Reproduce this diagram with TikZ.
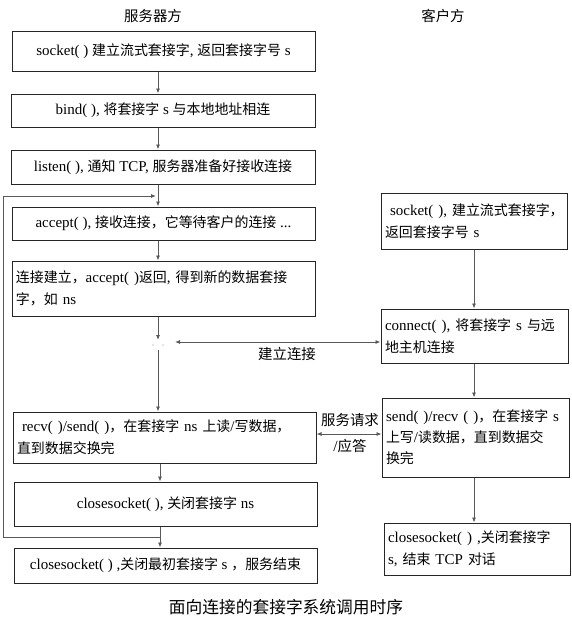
\documentclass[tikz,border=0pt]{standalone}
\usepackage{fontspec}
\setmainfont{Liberation Serif}
\newfontfamily\cjk[Scale=0.93]{Noto Sans CJK SC}
\usetikzlibrary{arrows.meta}
\newcommand\zh[1]{{\cjk #1}}
\begin{document}
\begin{tikzpicture}[x=1pt,y=-1pt,
 box/.style={draw=black!85,line width=1pt,inner xsep=4pt,inner ysep=2pt,font=\fontsize{15}{22}\selectfont,anchor=center},
 lbox/.style={box,align=left},
 arr/.style={draw=black!65,line width=0.8pt,-{Latex[length=5pt,width=4pt]}},
 dbl/.style={draw=black!65,line width=0.8pt,{Latex[length=5pt,width=4pt]}-{Latex[length=5pt,width=4pt]}},
 lab/.style={font=\fontsize{15.5}{16}\selectfont,inner sep=1pt},
 title/.style={font=\fontsize{15.5}{16}\selectfont\cjk,inner sep=1pt}]
\useasboundingbox (0,0) rectangle (571,618);
% titles
\node[title] (ts) at (153,16) {服务器方};
\node[title] (tc) at (443,16) {客户方};
% server boxes
\node[box,minimum width=303pt,minimum height=39pt] (b1) at (163.5,51.5) {socket( ) \zh{建立流式套接字}, \zh{返回套接字号} s};
\node[box,minimum width=304pt,minimum height=33pt] (b2) at (163,110.5) {bind( ), \zh{将套接字} s \zh{与本地地址相连}};
\node[box,minimum width=304pt,minimum height=34pt] (b3) at (163,167) {listen( ), \zh{通知} TCP, \zh{服务器准备好接收连接}};
\node[box,minimum width=303pt,minimum height=33pt] (b4) at (163.5,223.5) {accept( ), \zh{接收连接，它等待客户的连接} ...};
\node[lbox,text width=295pt,minimum height=55pt] (b5) at (163.5,288.5) {\zh{连接建立，}accept( )\zh{返回}, \zh{得到新的数据套接}\\\zh{字，如} ns};
\node[lbox,text width=295pt,minimum height=51pt] (b6) at (164.5,437.5) {\ recv( )/send( )\zh{，在套接字} ns \zh{上读}/\zh{写数据，}\\\zh{直到数据交换完}};
\node[box,minimum width=303pt,minimum height=44pt] (b7) at (165.5,504) {closesocket( ), \zh{关闭套接字} ns};
\node[box,minimum width=303pt,minimum height=35pt] (b8) at (165.5,565.5) {closesocket( ) ,\zh{关闭最初套接字} s \zh{，服务结束}};
% client boxes
\node[lbox,text width=178pt,minimum height=56pt] (c1) at (474,221) {\mbox{\ socket( ), \zh{建立流式套接字，}}\\\zh{返回套接字号} s};
\node[lbox,text width=179pt,minimum height=54pt] (c2) at (474.5,336) {connect( ), \zh{将套接字} s \zh{与远}\\\zh{地主机连接}};
\node[lbox,text width=179pt,minimum height=79pt,font=\fontsize{15}{21}\selectfont] (c3) at (475.5,437.5) {\mbox{send( )/recv ( )\zh{，}\zh{在套接字} s}\\\zh{上写}/\zh{读数据，直到数据交}\\\zh{换完}};
\node[lbox,text width=178pt,minimum height=52pt] (c4) at (477,549) {closesocket( ) ,\zh{关闭套接字}\\s, \zh{结束} TCP \zh{对话}};
% helper coordinates
\coordinate (xm) at (158,0);
\coordinate (xn) at (160,0);
\coordinate (xc) at (474,0);
\coordinate (j1) at (158,340);
\coordinate (j2) at (158,350);
\coordinate (jr) at (175,342);
\coordinate (sv) at (0,434);
\coordinate (lb) at (160,537);
\coordinate (lt) at (156,196);
\coordinate (ll) at (3,196);
% server connectors
\draw[arr] (b1.south -| xm) -- (b2.north -| xm);
\draw[arr] (b2.south -| xm) -- (b3.north -| xm);
\draw[arr] (b3.south -| xm) -- (b4.north -| xm);
\draw[arr] (b4.south -| xm) -- (b5.north -| xm);
\draw[arr] (b5.south -| xm) -- (j1);
\draw[arr] (j2) -- (b6.north -| xm);
\fill[black!45] (153,345) circle (0.7pt) (163,345) circle (0.7pt);
\draw[arr] (b6.south -| xn) -- (b7.north -| xn);
\draw[arr] (b7.south -| xn) -- (b8.north -| xn);
\draw[arr] (lb) -| (ll) -- (lt);
% client connectors
\draw[arr] (c1.south -| xc) -- (c2.north -| xc);
\draw[arr] (c2.south -| xc) -- (c3.north -| xc);
\draw[arr] (c3.south -| xc) -- (c4.north -| xc);
% cross connectors
\draw[dbl] (c2.west |- jr) -- (jr);
\node[lab] (l1) at (287,354) {\zh{建立连接}};
\draw[dbl] (b6.east |- sv) -- (c3.west |- sv);
\node[lab] (l2) at (350,420) {\zh{服务请求}};
\node[lab] (l3) at (350,446) {/\zh{应答}};
% caption
\node[font=\fontsize{18}{20}\selectfont\cjk] (cap) at (286,607) {面向连接的套接字系统调用时序};
\end{tikzpicture}
\end{document}
